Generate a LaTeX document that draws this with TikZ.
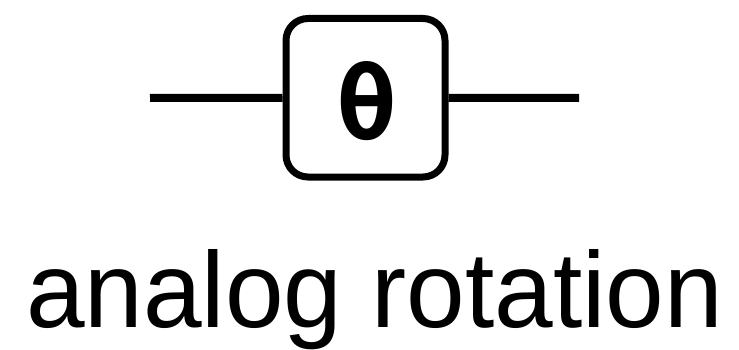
\documentclass[tikz,border=0pt]{standalone}
\usepackage{fontspec}
\setmainfont{Liberation Sans}
\newfontfamily\monob{DejaVu Sans Mono}[BoldFont={DejaVu Sans Mono Bold}]
\begin{document}
\begin{tikzpicture}[x=1pt,y=1pt,
  gatebox/.style={draw=black,line width=7pt,rounded corners=22pt,minimum width=159pt,minimum height=158.5pt,inner sep=0pt,fill=white},
  wire/.style={line width=8pt}]
\useasboundingbox (0,0) rectangle (739,349);
\coordinate (wl) at (150,251);
\coordinate (wr) at (579,251);
\node[gatebox] (g) at (365.5,251.25) {};
\draw[wire] (wl) -- (g.west);
\draw[wire] (g.east) -- (wr);
\node[inner sep=0pt,anchor=center] (th) at (366.5,248) {\resizebox{61pt}{78pt}{\monob\bfseries\fontsize{100}{100}\selectfont θ}};
\node[inner sep=0pt,anchor=base west] (lbl) at (26,21.5) {\resizebox{697pt}{78pt}{\fontsize{110}{110}\selectfont analog rotation}};
\end{tikzpicture}
\end{document}
